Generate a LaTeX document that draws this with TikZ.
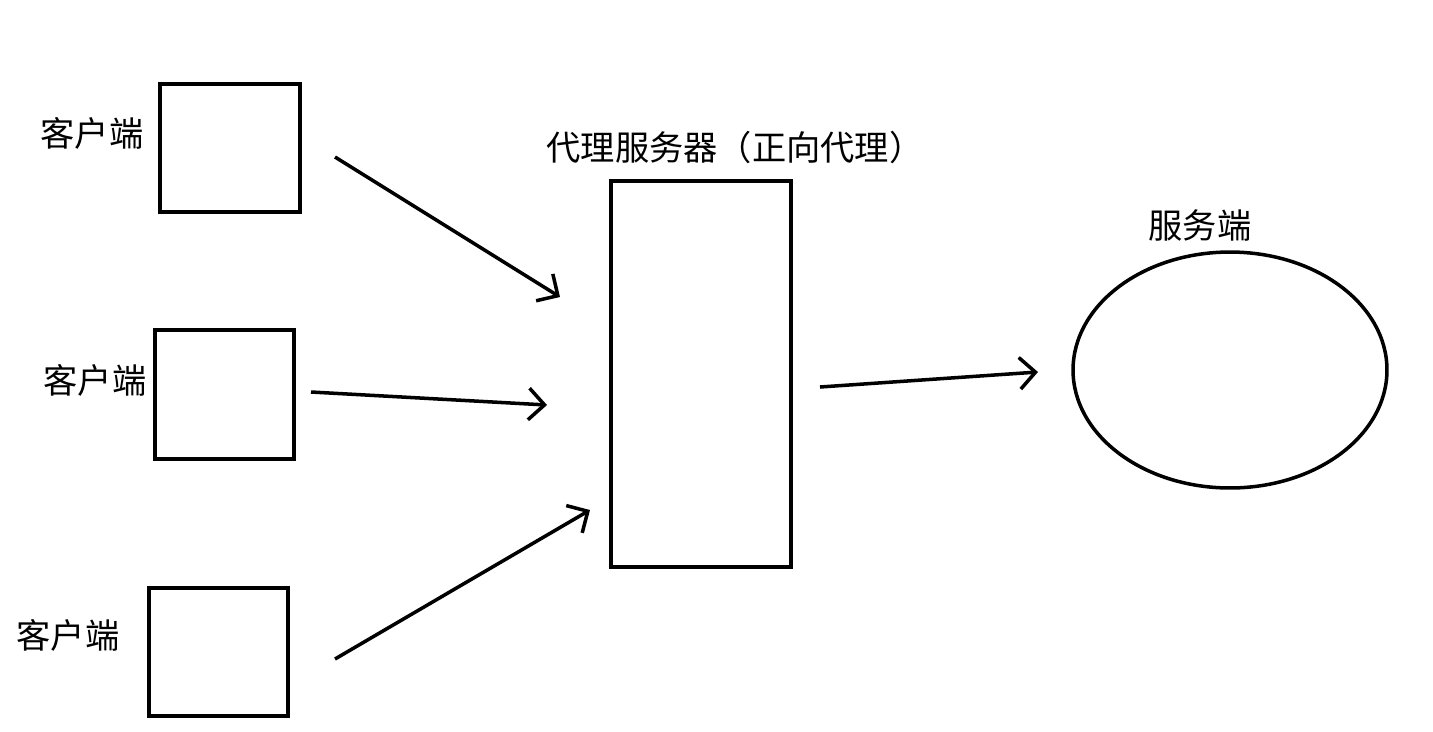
\documentclass[tikz,border=0pt]{standalone}
\usepackage{fontspec}
\setmainfont{Noto Sans CJK SC}
\usetikzlibrary{arrows.meta,shapes.geometric}

\begin{document}
\begin{tikzpicture}[x=0.02cm, y=-0.02cm, line width=2pt,
        every node/.style={font=\fontsize{19.5}{22}\selectfont}]
        \tikzstyle{boxStyle} = [draw=black, inner sep=0pt]
        \tikzstyle{arrowEdge} = [draw=black, -{Straight Barb[length=9pt,width=18pt]}]
        \useasboundingbox (0,0) rectangle (1433,731);
        % clients
        \node[boxStyle, minimum width=2.8cm, minimum height=2.56cm] (c1) at (230,148) {};
        \node[boxStyle, minimum width=2.78cm, minimum height=2.58cm] (c2) at (224.5,394.5) {};
        \node[boxStyle, minimum width=2.78cm, minimum height=2.56cm] (c3) at (218.5,652) {};
        \node (l1) at (92,133) {客户端};
        \node (l2) at (95,380) {客户端};
        \node (l3) at (68,635) {客户端};
        % proxy and server
        \node[boxStyle, minimum width=3.6cm, minimum height=7.72cm] (proxy) at (701,374) {};
        \node (lp) at (735,147) {代理服务器（正向代理）};
        \node[draw=black, ellipse, minimum width=6.28cm, minimum height=4.72cm, inner sep=0pt] (server) at (1230,370) {};
        \node (ls) at (1200,225) {服务端};
        % arrow ends
        \coordinate (a1) at (335,157); \coordinate (b1) at (560,297);
        \coordinate (a2) at (311,392); \coordinate (b2) at (547,405);
        \coordinate (a3) at (335,659); \coordinate (b3) at (590,510);
        \coordinate (a4) at (820,387); \coordinate (b4) at (1038,372);
        \foreach \from/\to in {a1/b1, a2/b2, a3/b3, a4/b4}
            \path[arrowEdge] (\from) -- (\to);
\end{tikzpicture}
\end{document}
